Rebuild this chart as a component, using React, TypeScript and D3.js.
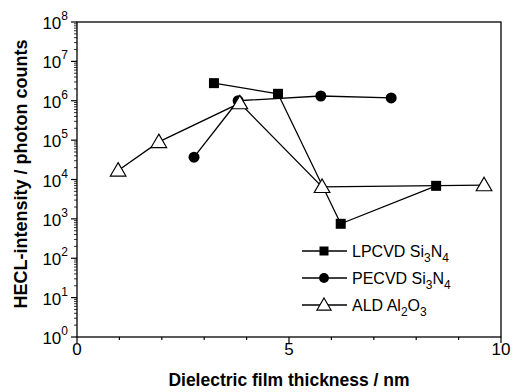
import * as d3 from 'd3';
import { useEffect, useRef } from 'react';

const lpcvdX = [3.23, 4.74, 6.22, 8.47];
const lpcvdY = [2.8e6, 1.5e6, 7.5e2, 6.9e3];
const pecvdX = [2.76, 3.8, 5.75, 7.41];
const pecvdY = [3.7e4, 1.0e6, 1.32e6, 1.18e6];
const aldX = [0.97, 1.93, 3.84, 5.78, 9.6];
const aldY = [1.7e4, 9.0e4, 8.7e5, 6.5e3, 7.2e3];

const xTicks = [0, 1, 2, 3, 4, 5, 6, 7, 8, 9, 10];
const xLabels = [0, 5, 10];
const yExps = [0, 1, 2, 3, 4, 5, 6, 7, 8];

const series = [
	{ name: 'LPCVD Si', sub1: '3', mid: 'N', sub2: '4', x: lpcvdX, y: lpcvdY, marker: 'square' },
	{ name: 'PECVD Si', sub1: '3', mid: 'N', sub2: '4', x: pecvdX, y: pecvdY, marker: 'circle' },
	{ name: 'ALD Al', sub1: '2', mid: 'O', sub2: '3', x: aldX, y: aldY, marker: 'triangle' },
];

const App = () => {
	const svgRef = useRef(null);

	useEffect(() => {
		const width = 516;
		const height = 392;
		const left = 77, right = 501, top = 22, bottom = 337;
		const font = 'Liberation Sans, Arial, sans-serif';

		const svg = d3.select(svgRef.current);
		svg.selectAll('*').remove();

		const x = d3.scaleLinear([0, 10], [left, right]);
		const y = d3.scaleLog([1, 1e8], [bottom, top]);

		// frame
		svg.append('rect')
			.attr('x', left).attr('y', top)
			.attr('width', right - left).attr('height', bottom - top)
			.attr('fill', 'none').attr('stroke', '#000').attr('stroke-width', 1.3);

		// x ticks
		svg.selectAll('.xt').data(xTicks).join('line')
			.attr('x1', d => x(d)).attr('x2', d => x(d))
			.attr('y1', bottom).attr('y2', d => bottom + (d % 5 === 0 ? 6 : 3))
			.attr('stroke', '#000').attr('stroke-width', 1.2);
		svg.selectAll('.xl').data(xLabels).join('text')
			.attr('x', d => x(d)).attr('y', 355)
			.attr('text-anchor', 'middle')
			.attr('font-family', font).attr('font-size', 17)
			.text(d => d);

		// y ticks
		const minor = [];
		for (let e = 0; e < 8; e++) for (let m = 2; m <= 9; m++) minor.push(m * Math.pow(10, e));
		svg.selectAll('.ym').data(minor).join('line')
			.attr('x1', left - 3).attr('x2', left)
			.attr('y1', d => y(d)).attr('y2', d => y(d))
			.attr('stroke', '#000').attr('stroke-width', 0.8);
		svg.selectAll('.yM').data(yExps).join('line')
			.attr('x1', left - 6).attr('x2', left)
			.attr('y1', d => y(Math.pow(10, d))).attr('y2', d => y(Math.pow(10, d)))
			.attr('stroke', '#000').attr('stroke-width', 1.2);
		const yl = svg.selectAll('.yl').data(yExps).join('text')
			.attr('x', left - 9).attr('y', d => y(Math.pow(10, d)) + 7)
			.attr('text-anchor', 'end')
			.attr('font-family', font).attr('font-size', 17);
		yl.append('tspan').text('10');
		yl.append('tspan').attr('dy', -9).attr('font-size', 12).text(d => d);

		// axis titles
		svg.append('text')
			.attr('x', (left + right) / 2).attr('y', 386)
			.attr('text-anchor', 'middle')
			.attr('font-family', font).attr('font-size', 17.5).attr('font-weight', 'bold')
			.text('Dielectric film thickness / nm');
		svg.append('text')
			.attr('transform', `translate(27,174) rotate(-90)`)
			.attr('text-anchor', 'middle')
			.attr('font-family', font).attr('font-size', 18).attr('font-weight', 'bold')
			.text('HECL-intensity / photon counts');

		const drawMarker = (g, kind, cx, cy, sz) => {
			if (kind === 'square') {
				g.append('rect').attr('x', cx - sz / 2).attr('y', cy - sz / 2).attr('width', sz).attr('height', sz).attr('fill', '#000');
			} else if (kind === 'circle') {
				g.append('circle').attr('cx', cx).attr('cy', cy).attr('r', sz * 0.55).attr('fill', '#000');
			} else {
				const s = sz * 0.78;
				g.append('path')
					.attr('d', `M${cx},${cy - s}L${cx + s},${cy + s * 0.72}L${cx - s},${cy + s * 0.72}Z`)
					.attr('fill', '#fff').attr('stroke', '#000').attr('stroke-width', 1.2);
			}
		};

		const line = d3.line().x(d => x(d[0])).y(d => y(d[1]));

		series.forEach(s => {
			const pts = s.x.map((v, i) => [v, s.y[i]]);
			svg.append('path').attr('d', line(pts))
				.attr('fill', 'none').attr('stroke', '#000').attr('stroke-width', 1.3);
		});
		series.forEach(s => {
			const g = svg.append('g');
			s.x.forEach((v, i) => drawMarker(g, s.marker, x(v), y(s.y[i]), 10));
		});

		// legend
		series.forEach((s, i) => {
			const ly = 251 + i * 27;
			const g = svg.append('g');
			g.append('line').attr('x1', 302).attr('x2', 347).attr('y1', ly).attr('y2', ly)
				.attr('stroke', '#000').attr('stroke-width', 1.3);
			drawMarker(g, s.marker, 324, ly, 9);
			const t = g.append('text').attr('x', 352).attr('y', ly + 6)
				.attr('font-family', font).attr('font-size', 16);
			t.append('tspan').text(s.name);
			t.append('tspan').attr('dy', 5).attr('font-size', 12).text(s.sub1);
			t.append('tspan').attr('dy', -5).text(s.mid);
			t.append('tspan').attr('dy', 5).attr('font-size', 12).text(s.sub2);
		});

		svg.attr('width', width).attr('height', height);
	}, []);

	return <svg ref={svgRef} width={516} height={392} style={{ position: 'absolute', left: 0, top: 0, background: '#fff' }} />;
};

export default App;
